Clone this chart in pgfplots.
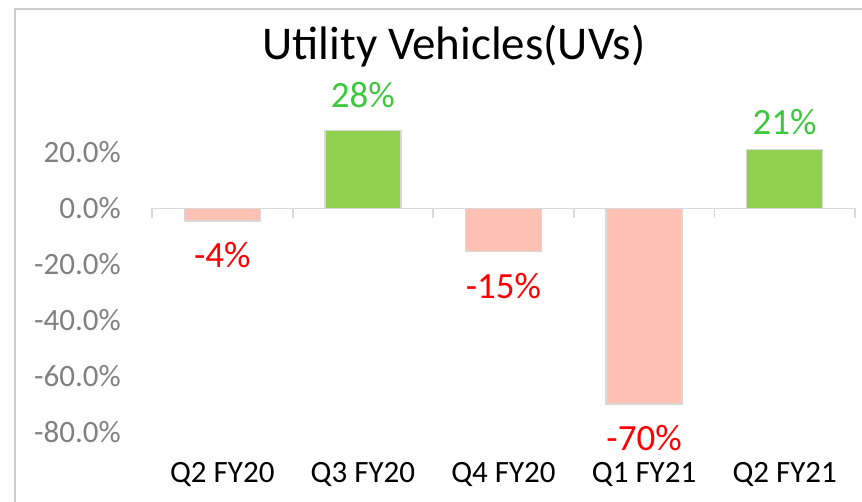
\documentclass[border=0pt]{standalone}
\usepackage{pgfplots}
\pgfplotsset{compat=1.18}
\usepackage{fontspec}
\setmainfont{Carlito}
\definecolor{negbar}{RGB}{255,193,180}
\definecolor{posbar}{RGB}{146,208,80}
\definecolor{barline}{RGB}{217,217,217}
\definecolor{poslab}{RGB}{60,200,60}
\definecolor{ticklab}{RGB}{128,128,128}
\definecolor{frame}{RGB}{205,205,205}
\begin{document}
\begin{tikzpicture}
\path[use as bounding box] (0,0) rectangle (862bp,502bp);
\draw[frame, line width=2bp] (15bp,0) -- (15bp,493bp) -- (862bp,493bp);
\node[anchor=base, inner sep=0pt, font=\fontsize{47bp}{52bp}\selectfont] at (454bp,442bp) {Utility Vehicles(UVs)};
\begin{axis}[
  at={(152bp,69.5bp)}, anchor=south west,
  width=703bp, height=308bp, scale only axis,
  xmin=-0.5, xmax=4.5, ymin=-80, ymax=30,
  clip=false,
  axis line style={draw=none},
  major tick length=0pt,
  tick style={draw=none},
  xtick={0,1,2,3,4},
  xticklabels={Q2 FY20,Q3 FY20,Q4 FY20,Q1 FY21,Q2 FY21},
  xticklabel style={inner sep=0pt, anchor=base, yshift=-50bp, font=\fontsize{31bp}{36bp}\selectfont, text=black},
  ytick={-80,-60,-40,-20,0,20},
  yticklabels={-80.0\%,-60.0\%,-40.0\%,-20.0\%,0.0\%,20.0\%},
  yticklabel style={inner sep=0pt, anchor=east, xshift=-31bp, font=\fontsize{31bp}{36bp}\selectfont, text=ticklab},
  ybar, bar width=76bp, bar shift=0pt,
  every node near coord/.append style={font=\fontsize{37bp}{42bp}\selectfont, inner sep=0pt},
]
\draw[barline, line width=1.8bp] (axis cs:-0.5,0) -- (axis cs:4.5,0);
\draw[barline, line width=1.8bp]
  (axis cs:-0.5,0) -- ([yshift=-10bp]axis cs:-0.5,0)
  (axis cs:0.5,0) -- ([yshift=-10bp]axis cs:0.5,0)
  (axis cs:1.5,0) -- ([yshift=-10bp]axis cs:1.5,0)
  (axis cs:2.5,0) -- ([yshift=-10bp]axis cs:2.5,0)
  (axis cs:3.5,0) -- ([yshift=-10bp]axis cs:3.5,0)
  (axis cs:4.5,0) -- ([yshift=-10bp]axis cs:4.5,0);
% negative bars
\addplot[fill=negbar, draw=barline, line width=1.5bp,
  point meta=explicit symbolic,
  nodes near coords,
  nodes near coords style={anchor=base, yshift=-47bp, text=red}]
  table[meta=lab] {
x y lab
0 -4.4 -4\%
2 -15.4 -15\%
3 -69.8 -70\%
};
% positive bars
\addplot[fill=posbar, draw=barline, line width=1.5bp,
  point meta=explicit symbolic,
  nodes near coords,
  nodes near coords style={anchor=base, yshift=23bp, text=poslab}]
  table[meta=lab] {
x y lab
1 27.8 28\%
};
\addplot[fill=posbar, draw=barline, line width=1.5bp,
  point meta=explicit symbolic,
  nodes near coords,
  nodes near coords style={anchor=base, yshift=14.5bp, text=poslab}]
  table[meta=lab] {
x y lab
4 21.1 21\%
};
\end{axis}
\end{tikzpicture}
\end{document}
